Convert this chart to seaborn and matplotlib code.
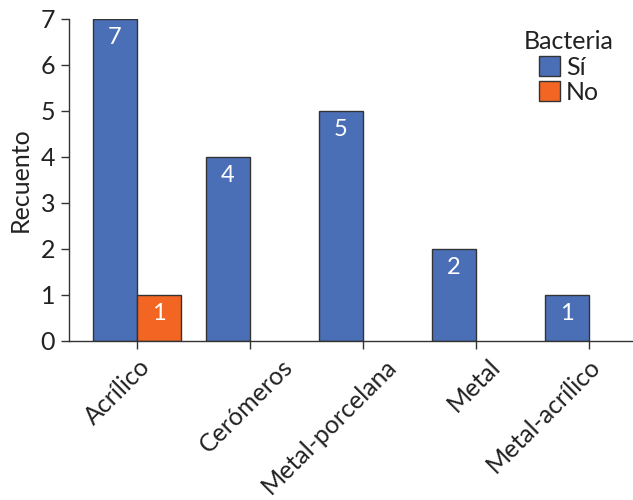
import seaborn as sns
from matplotlib import pyplot as plt
from matplotlib.transforms import ScaledTranslation
import pandas as pd

categories = ['Acrílico', 'Cerómeros', 'Metal-porcelana', 'Metal', 'Metal-acrílico']
si_counts = [7, 4, 5, 2, 1]
no_counts = [1, 0, 0, 0, 0]
hue_levels = ['Sí', 'No']
y_ticks = [0, 1, 2, 3, 4, 5, 6, 7]

color_si = '#4a6fb6'
color_no = '#f26522'
edge_color = '#333333'
# the original tick labels are not evenly placed under their ticks (pixels)
label_shift = [1, 31, 22, 12, -1]

sns.set_theme(style='white')
plt.rcParams['font.family'] = ['Lato', 'DejaVu Sans']

rows = []
for cat, s, n in zip(categories, si_counts, no_counts):
    if s > 0:
        rows.append({'Material': cat, 'Bacteria': 'Sí', 'Recuento': s})
    if n > 0:
        rows.append({'Material': cat, 'Bacteria': 'No', 'Recuento': n})
df = pd.DataFrame(rows)

fig = plt.figure(figsize=(6.33, 5), dpi=100)
ax = fig.add_axes([0.109, 0.318, 0.891, 0.644])

sns.barplot(data=df, x='Material', y='Recuento', hue='Bacteria', order=categories,
            hue_order=hue_levels, palette=[color_si, color_no], width=0.78,
            edgecolor=edge_color, linewidth=1, saturation=1, ax=ax)

for cont in ax.containers:
    for p in cont:
        h = p.get_height()
        if h > 0:
            ax.annotate(f"{int(h)}", (p.get_x() + p.get_width() / 2, h),
                        xytext=(0, -6), textcoords='offset points',
                        ha='center', va='top', color='white', fontsize=17)

ax.set_ylim(0, 7)
ax.set_xlim(-0.6, 4.39)
ax.set_yticks(y_ticks)
ax.set_xlabel('')
ax.set_ylabel('Recuento', fontsize=18, color='#222222', labelpad=6)
ax.tick_params(axis='both', which='both', direction='out', length=6, width=1,
               color='#333333', labelsize=18, labelcolor='#222222',
               left=True, bottom=True, pad=4)
plt.setp(ax.get_xticklabels(), rotation=45, ha='right', rotation_mode='anchor')
for lbl, dx in zip(ax.get_xticklabels(), label_shift):
    lbl.set_transform(lbl.get_transform() + ScaledTranslation(dx / 100, 0, fig.dpi_scale_trans))

sns.despine(ax=ax)
for side in ['left', 'bottom']:
    ax.spines[side].set_color('#333333')
    ax.spines[side].set_linewidth(1)

leg = ax.legend(title='Bacteria', frameon=False, loc='upper right',
                bbox_to_anchor=(0.997, 1.02), fontsize=18, title_fontsize=18,
                handlelength=0.85, handleheight=0.85, handletextpad=0.25,
                labelspacing=0.1, borderaxespad=0.3, alignment='center')
for t in leg.get_texts():
    t.set_color('#222222')
leg.get_title().set_color('#222222')

fig.savefig('out.png', dpi=100)
